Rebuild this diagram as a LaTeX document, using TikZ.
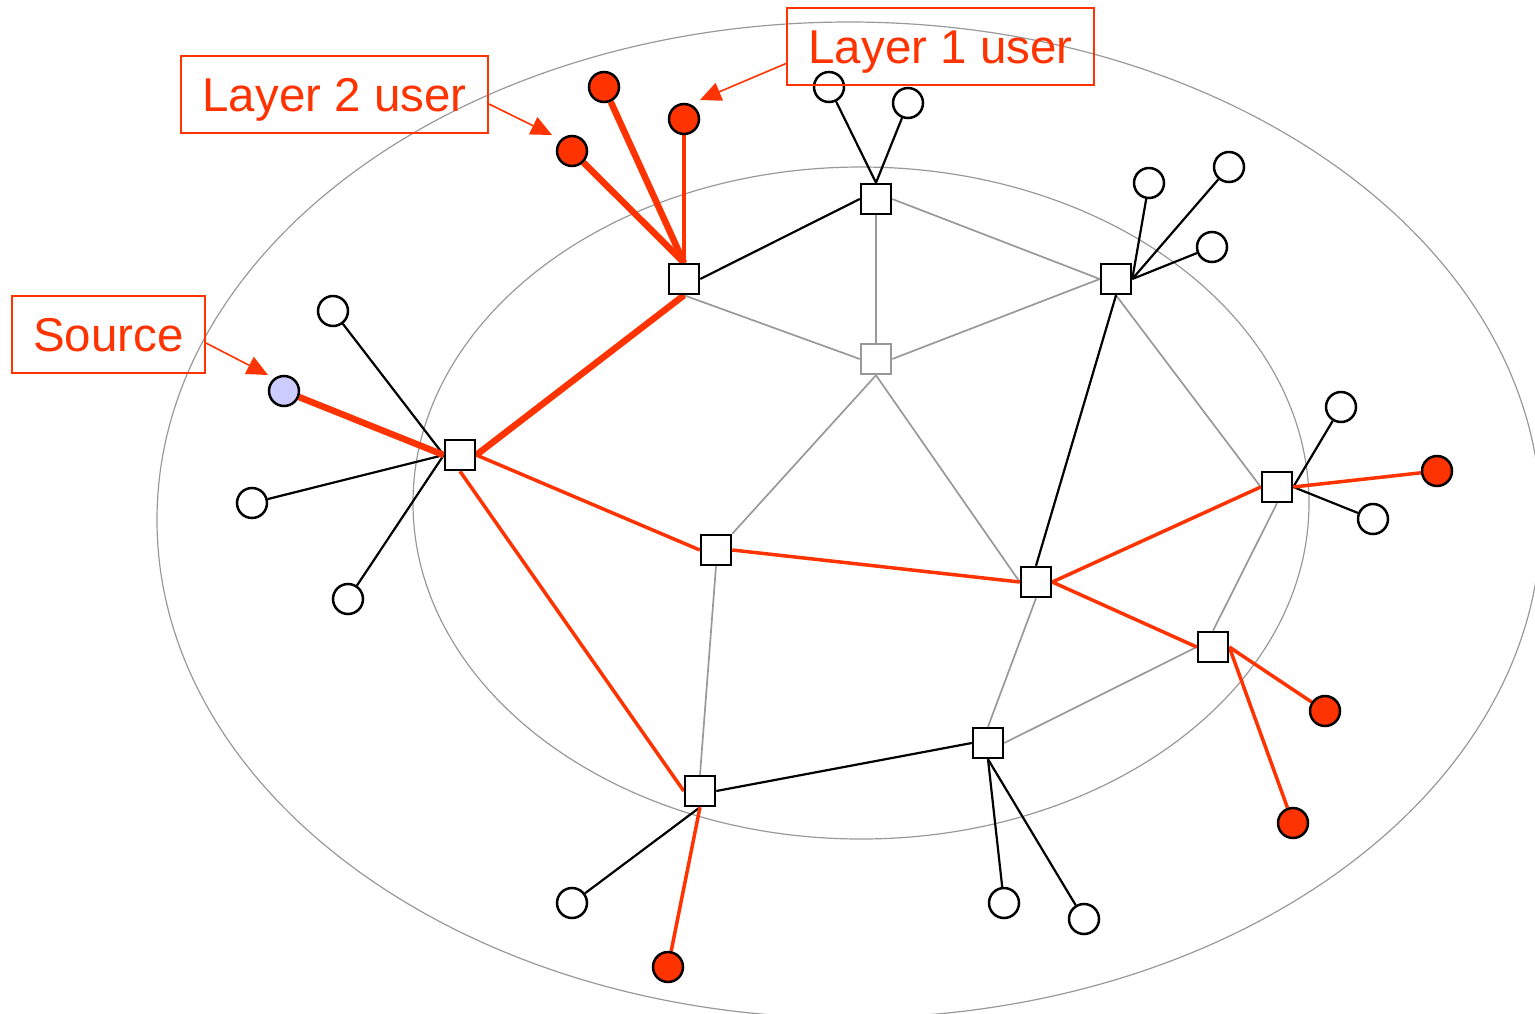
\documentclass[tikz,border=0pt]{standalone}
\usepackage{fontspec}
\setmainfont{Liberation Sans}
\usetikzlibrary{arrows.meta}
\definecolor{myred}{RGB}{255,51,0}
\definecolor{lav}{RGB}{204,204,255}
\definecolor{edgegray}{RGB}{153,153,153}
\pgfdeclarelayer{bg}
\pgfsetlayers{bg,main}
\begin{document}
\begin{tikzpicture}[x=1pt,y=-1pt,
  sq/.style={rectangle,draw=black,line width=2.5pt,fill=white,minimum size=30pt,inner sep=0pt},
  gsq/.style={sq,draw=edgegray},
  leaf/.style={circle,draw=black,line width=2.5pt,fill=white,minimum size=30pt,inner sep=0pt},
  rleaf/.style={leaf,fill=myred},
  sleaf/.style={leaf,fill=lav},
  ell/.style={draw=edgegray,line width=1.2pt},
  gedge/.style={draw=edgegray,line width=1.7pt},
  bedge/.style={draw=black,line width=2.2pt},
  redge/.style={draw=myred,line width=3.5pt},
  rthick/.style={draw=myred,line width=6.5pt},
  lab/.style={draw=myred,line width=2pt,text=myred,minimum height=77pt,inner sep=0pt,
    text height=34pt,text depth=0pt,font=\fontsize{47.5}{56}\selectfont},
  callout/.style={draw=myred,line width=1.6pt,-{Triangle[length=21pt,width=19pt]}}
]
\useasboundingbox (0,0) rectangle (1535,1013);

% squares
\node[sq]  (S1)  at (684,279) {};
\node[sq]  (S2)  at (876,199) {};
\node[sq]  (S3)  at (1116,279) {};
\node[gsq] (S4)  at (876,359) {};
\node[sq]  (S5)  at (460,455) {};
\node[sq]  (S6)  at (716,550) {};
\node[sq]  (S7)  at (1036,582) {};
\node[sq]  (S8)  at (1277,487) {};
\node[sq]  (S9)  at (1213,647) {};
\node[sq]  (S10) at (988,743) {};
\node[sq]  (S11) at (700,791) {};

% leaves
\node[rleaf] (r1)  at (604,87) {};
\node[rleaf] (r2)  at (572,151) {};
\node[rleaf] (r3)  at (684,119) {};
\node[leaf]  (w1)  at (829,87) {};
\node[leaf]  (w2)  at (908,103) {};
\node[leaf]  (w3)  at (1149,183) {};
\node[leaf]  (w4)  at (1229,167) {};
\node[leaf]  (w5)  at (1212,247) {};
\node[sleaf] (src) at (284,391) {};
\node[leaf]  (w6)  at (333,311) {};
\node[leaf]  (w7)  at (252,503) {};
\node[leaf]  (w8)  at (348,599) {};
\node[leaf]  (w9)  at (1341,407) {};
\node[rleaf] (r4)  at (1437,471) {};
\node[leaf]  (w10) at (1373,519) {};
\node[rleaf] (r5)  at (1325,711) {};
\node[rleaf] (r6)  at (1293,823) {};
\node[leaf]  (w11) at (1004,903) {};
\node[leaf]  (w12) at (1084,919) {};
\node[leaf]  (w13) at (572,903) {};
\node[rleaf] (r7)  at (668,967) {};

% labels
\node[lab,minimum width=307pt] (lab2) at (334.5,94.5) {Layer 2 user};
\node[lab,minimum width=307pt] (lab1) at (940.5,46.5) {Layer 1 user};
\node[lab,minimum width=193pt] (labs) at (108.5,334.5) {Source};
\coordinate (a2) at (552,135);
\coordinate (a1) at (700,100);
\coordinate (a0) at (268,375);

\begin{pgfonlayer}{bg}
  \draw[ell] (849,520) ellipse [x radius=692pt, y radius=498pt];
  \draw[ell] (861,503) ellipse [x radius=448pt, y radius=336pt];
  % gray edges
  \draw[gedge] (S1.south) -- (S4.west);
  \draw[gedge] (S2.south) -- (S4.north);
  \draw[gedge] (S2.east) -- (S3.west);
  \draw[gedge] (S4.east) -- (S3.west);
  \draw[gedge] (S4.south) -- (S6.north east);
  \draw[gedge] (S4.south) -- (S7.west);
  \draw[gedge] (S3.south) -- (S8.west);
  \draw[gedge] (S8.south) -- (S9.north);
  \draw[gedge] (S9.west) -- (S10.east);
  \draw[gedge] (S7.south) -- (S10.north);
  \draw[gedge] (S6.south) -- (S11.north);
  % black edges
  \draw[bedge] (S1.east) -- (S2.west);
  \draw[bedge] (S3.south) -- (S7.north);
  \draw[bedge] (S10.west) -- (S11.east);
  \draw[bedge] (S2.north) -- (w1);
  \draw[bedge] (S2.north) -- (w2);
  \draw[bedge] (S3.east) -- (w3);
  \draw[bedge] (S3.east) -- (w4);
  \draw[bedge] (S3.east) -- (w5);
  \draw[bedge] (S5.west) -- (w6);
  \draw[bedge] (S5.west) -- (w7);
  \draw[bedge] (S5.west) -- (w8);
  \draw[bedge] (S8.east) -- (w9);
  \draw[bedge] (S8.east) -- (w10);
  \draw[bedge] (S10.south) -- (w11);
  \draw[bedge] (S10.south) -- (w12);
  \draw[bedge] (S11.south) -- (w13);
  % red edges
  \draw[redge] (S5.east) -- (S6.west);
  \draw[redge] (S6.east) -- (S7.west);
  \draw[redge] (S7.east) -- (S8.west);
  \draw[redge] (S7.east) -- (S9.west);
  \draw[redge] (S5.south) -- (S11.west);
  \draw[redge] (S1.north) -- (r3);
  \draw[redge] (S8.east) -- (r4);
  \draw[redge] (S9.east) -- (r5);
  \draw[redge] (S9.east) -- (r6);
  \draw[redge] (S11.south) -- (r7);
  \draw[rthick] (S5.east) -- (S1.south);
  \draw[rthick] (S5.west) -- (src);
  \draw[rthick] (S1.north) -- (r1);
  \draw[rthick] (S1.north) -- (r2);
\end{pgfonlayer}

% callout arrows
\draw[callout] ([yshift=-9.5pt]lab2.east) -- (a2);
\draw[callout] ([yshift=-17pt]lab1.west) -- (a1);
\draw[callout] ([yshift=-8.5pt]labs.east) -- (a0);
\end{tikzpicture}
\end{document}
